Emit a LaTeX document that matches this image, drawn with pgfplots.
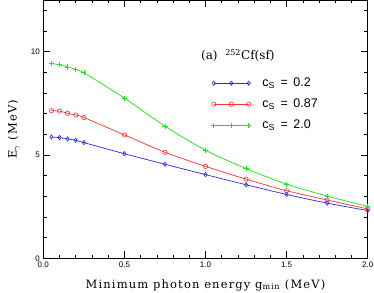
\documentclass[border=0pt]{standalone}
\usepackage{fontspec}
\setmainfont{DejaVu Serif}
\newfontfamily\ticksf{Liberation Sans}
\newfontfamily\labelfont[LetterSpace=10]{DejaVu Serif}
\usepackage{pgfplots}
\pgfplotsset{compat=1.18}
\definecolor{cblue}{RGB}{40,40,245}
\definecolor{cred}{RGB}{250,50,50}
\definecolor{cgreen}{RGB}{20,230,20}
\begin{document}
\begin{tikzpicture}
\begin{axis}[
  scale only axis,
  width=324.4pt, height=258.3pt,
  at={(0,0)}, anchor=south west,
  xmin=0, xmax=2.0, ymin=0, ymax=12.5,
  xtick={0,0.5,1.0,1.5,2.0},
  xticklabels={0.0,0.5,1.0,1.5,2.0},
  minor xtick={0.1,0.2,0.3,0.4,0.6,0.7,0.8,0.9,1.1,1.2,1.3,1.4,1.6,1.7,1.8,1.9},
  ytick={0,5,10},
  minor ytick={1,2,3,4,6,7,8,9,11,12},
  tick align=inside,
  major tick length=7pt, minor tick length=3.5pt,
  tick style={black, line width=0.5pt},
  axis line style={line width=0.6pt},
  tick label style={font=\ticksf\fontsize{8}{9}\selectfont},
  /pgf/number format/assume math mode=true,
  xlabel={\labelfont Minimum photon energy g\textsubscript{min} (MeV)},
  ylabel={\labelfont E\textsubscript{$\gamma$} (MeV)},
  label style={font=\fontsize{11.5}{13}\selectfont},
  xlabel style={yshift=-5pt},
  ylabel style={yshift=4pt},
  legend cell align=left,
  legend style={draw=none, fill=none, at={(axis cs:1.034,8.99)}, anchor=north west,
    font=\ticksf\fontsize{12.5}{14}\selectfont, row sep=0pt, column sep=11pt, inner sep=0pt,
    nodes={inner sep=0pt, minimum height=21pt}},
  legend image code/.code={\draw[#1] plot coordinates {(0pt,0pt) (17.5pt,0pt) (35pt,0pt)};},
]
\addplot[cblue, line width=0.7pt, smooth, mark=diamond, mark size=2.2pt, mark options={solid, line width=0.6pt}]
coordinates {(0.05,5.87)(0.10,5.84)(0.15,5.78)(0.20,5.71)(0.25,5.60)(0.50,5.06)(0.75,4.55)(1.00,4.05)(1.25,3.56)(1.50,3.09)(1.75,2.67)(2.00,2.31)};
\addlegendentry{c\textsubscript{S} \,=\, 0.2}
\addplot[cred, line width=0.7pt, smooth, mark=o, mark size=2.2pt, mark options={solid, line width=0.6pt}]
coordinates {(0.05,7.15)(0.10,7.12)(0.15,7.02)(0.20,6.93)(0.25,6.81)(0.50,5.97)(0.75,5.13)(1.00,4.45)(1.25,3.83)(1.50,3.27)(1.75,2.82)(2.00,2.39)};
\addlegendentry{c\textsubscript{S} \,=\, 0.87}
\addplot[cgreen, line width=0.7pt, smooth, mark=+, mark size=2.6pt, mark options={solid, line width=0.7pt}]
coordinates {(0.05,9.42)(0.10,9.37)(0.15,9.26)(0.20,9.13)(0.25,8.98)(0.50,7.75)(0.75,6.39)(1.00,5.23)(1.25,4.34)(1.50,3.59)(1.75,3.01)(2.00,2.51)};
\addlegendentry{c\textsubscript{S} \,=\, 2.0}
\node[anchor=base west, font=\fontsize{12}{14}\selectfont, inner sep=0pt] at (axis cs:0.972,9.6) {(a)\ \ \textsuperscript{252}Cf(sf)};
\end{axis}
\pgfresetboundingbox
\path[use as bounding box] (-43.3pt,-33.7pt) rectangle (330.7pt,258.3pt);
\end{tikzpicture}
\end{document}
